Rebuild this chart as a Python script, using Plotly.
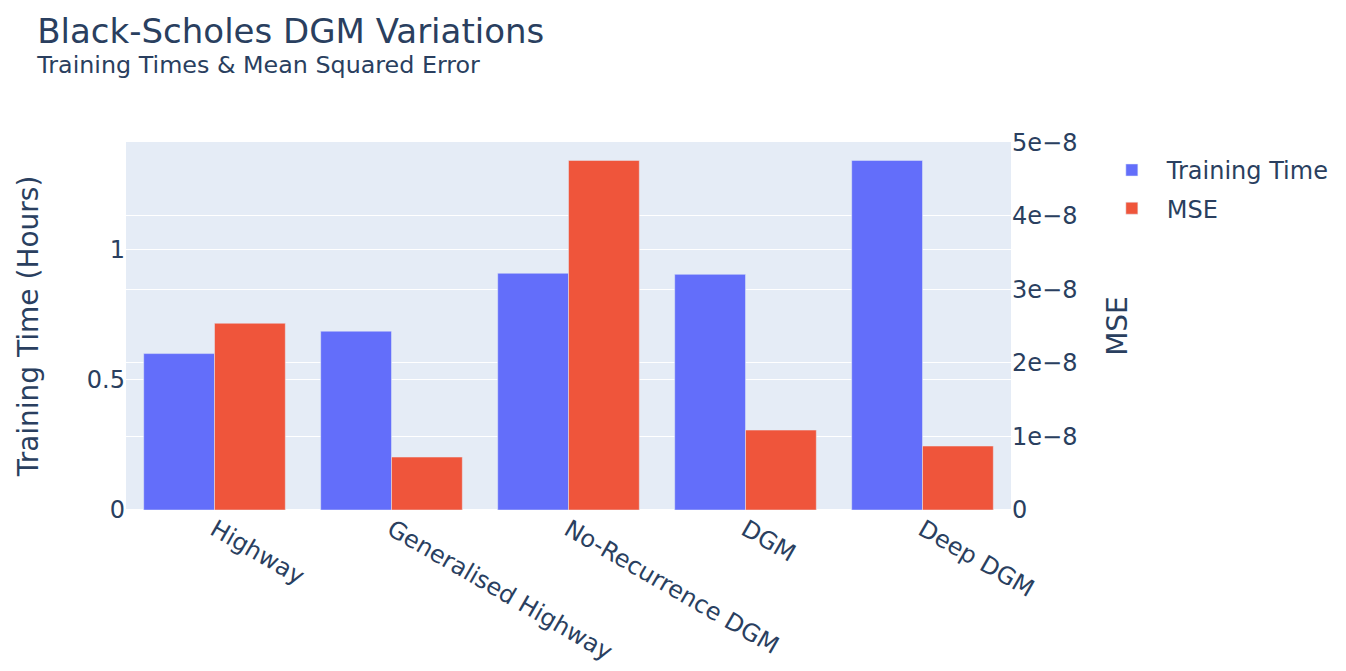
import plotly.graph_objects as go
from plotly.subplots import make_subplots

models = ["Highway", "Generalised Highway", "No-Recurrence DGM", "DGM", "Deep DGM"]
training_hours = [0.60, 0.686, 0.908, 0.904, 1.341]
mse = [2.54e-8, 0.72e-8, 4.755e-8, 1.087e-8, 0.87e-8]

font_family = "DejaVu Sans"

fig = make_subplots(specs=[[{"secondary_y": True}]])
fig.add_trace(
    go.Bar(x=models, y=training_hours, name="Training Time", offsetgroup=1, legendgroup="t"),
    secondary_y=False,
)
fig.add_trace(
    go.Bar(x=models, y=mse, name="MSE", offsetgroup=2, legendgroup="m"),
    secondary_y=True,
)

fig.update_layout(
    template="plotly",
    width=1330,
    height=655,
    font={"family": font_family, "size": 24},
    title={
        "text": "Black-Scholes DGM Variations<br><sup>Training Times & Mean Squared Error</sup>",
        "font": {"size": 34},
        "x": 0.022,
        "xanchor": "left",
        "y": 0.946,
        "yanchor": "top",
    },
    margin={"l": 118, "r": 327, "t": 134, "b": 153, "autoexpand": False},
    barmode="group",
    legend={"x": 1.097, "y": 0.984, "yanchor": "top", "itemwidth": 60, "tracegroupgap": 4},
)
fig.update_xaxes(tickangle=30, domain=[0, 1])
fig.update_yaxes(
    title_text="Training Time (Hours)", title_font_size=28, title_standoff=40,
    dtick=0.5, secondary_y=False,
)
fig.update_yaxes(
    title_text="MSE", title_font_size=28, title_standoff=30,
    dtick=1e-8, exponentformat="e", secondary_y=True,
)

fig.write_html("out.html")
